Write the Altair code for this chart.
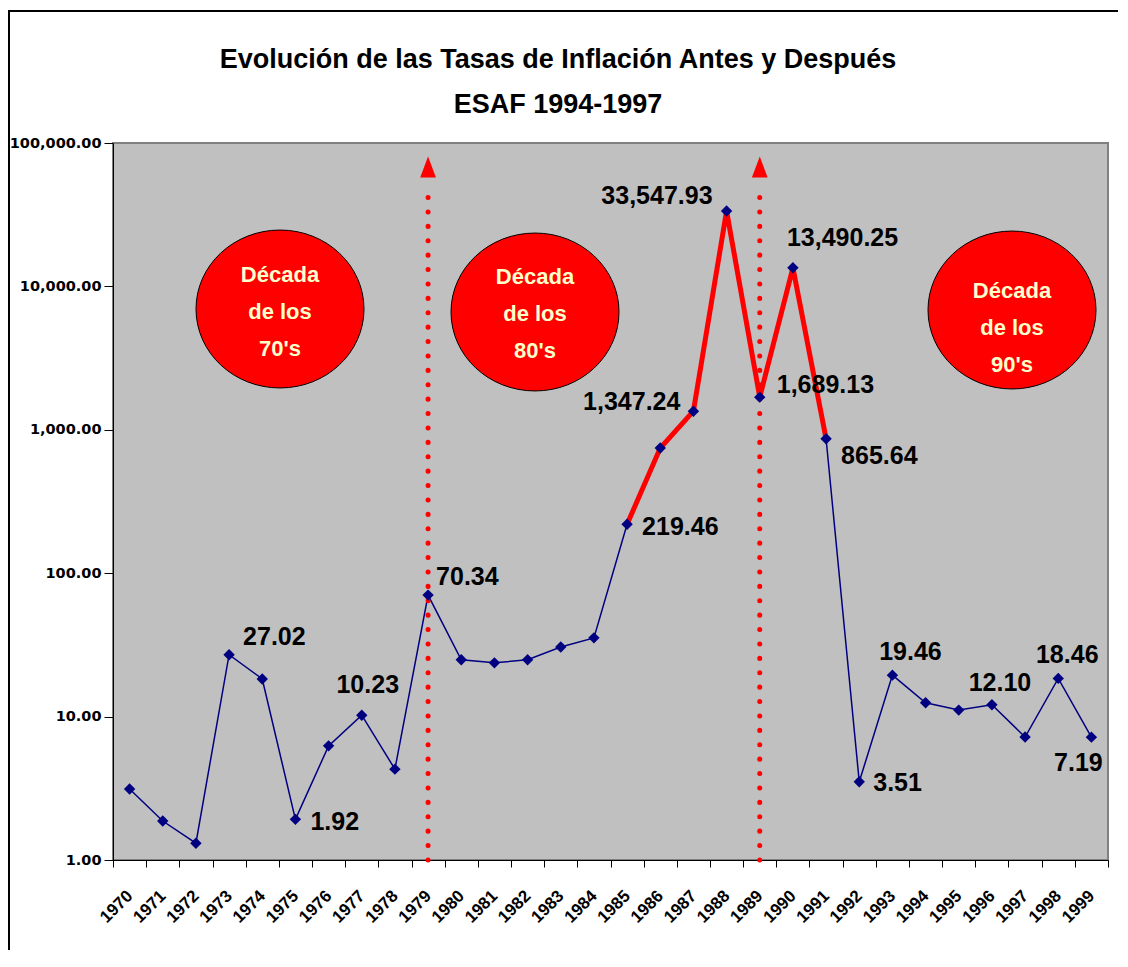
import altair as alt
import pandas as pd

# ---------------- data ----------------
years = [str(y) for y in range(1970, 2000)]
inflation = [3.13, 1.87, 1.31, 27.02, 18.3, 1.92, 6.25, 10.23, 4.3, 70.34,
             24.9, 23.7, 24.9, 30.6, 35.4, 219.46, 746.0, 1347.24, 33547.93, 1689.13,
             13490.25, 865.64, 3.51, 19.46, 12.5, 11.1, 12.10, 7.2, 18.46, 7.19]
red_years = ["1985", "1986", "1987", "1988", "1989", "1990", "1991"]
arrow_years = ["1979", "1989"]
decade_labels = ["Década\nde los\n70's", "Década\nde los\n80's", "Década\nde los\n90's"]
title_lines = ["Evolución de las Tasas de Inflación Antes y Después", "ESAF 1994-1997"]
y_ticks = [1, 10, 100, 1000, 10000, 100000]
labelled_years = ["1973", "1975", "1977", "1979", "1985", "1987", "1988", "1989",
                  "1990", "1991", "1992", "1993", "1996", "1998", "1999"]

df = pd.DataFrame({"year": years, "value": inflation})
df_red = df[df["year"].isin(red_years)]
df_arrow = pd.DataFrame({"year": arrow_years})

FONT = "Liberation Sans, Arial, sans-serif"
W, H = 995, 717

x_enc = alt.X("year:O",
              scale=alt.Scale(type="band", domain=years, paddingInner=0, paddingOuter=0),
              axis=alt.Axis(title=None, labelAngle=-45, labelAlign="right", labelBaseline="middle",
                            labelPadding=26, labelFont=FONT, labelFontWeight="bold",
                            labelFontSize=17, labelColor="black", tickBand="extent", tickSize=7,
                            tickColor="black", domainColor="black", domainWidth=1))
y_enc = alt.Y("value:Q",
              scale=alt.Scale(type="log", domain=[1, 100000], nice=False),
              axis=alt.Axis(title=None, values=y_ticks, format=",.2f", grid=False,
                            labelFont="DejaVu Sans", labelFontWeight="bold", labelFontSize=14.5,
                            labelColor="black", labelPadding=3, tickSize=9, tickColor="black",
                            domainColor="black", domainWidth=1))

base = alt.Chart(df)

blue_line = base.mark_line(color="#000080", strokeWidth=1.5).encode(x=x_enc, y=y_enc)
red_line = alt.Chart(df_red).mark_line(color="#FF0000", strokeWidth=5).encode(x="year:O", y="value:Q")
markers = base.mark_point(shape="diamond", filled=True, color="#000080", size=130, opacity=1).encode(
    x="year:O", y="value:Q")

# dotted arrows
arrow_rules = alt.Chart(df_arrow).mark_rule(color="#FF0000", strokeWidth=5, strokeCap="round",
                                            strokeDash=[0.1, 14.3]).encode(
    x="year:O", y=alt.value(H), y2=alt.value(50))
arrow_heads = alt.Chart(df_arrow).mark_point(shape="M 0 -1 L 0.75 1 L -0.75 1 Z", filled=True,
                                             color="#FF0000", size=441, opacity=1).encode(
    x="year:O", y=alt.value(24))

# value labels (offsets set per label)
label_style = {
    "1973": ("left", 14, -18), "1975": ("left", 15, 3), "1977": ("center", 6, -30),
    "1979": ("left", 8, -18), "1985": ("left", 15, 3), "1987": ("right", -13, -9),
    "1988": ("right", -14, -15), "1989": ("left", 17, -12), "1990": ("left", -6, -30),
    "1991": ("left", 15, 17), "1992": ("left", 14, 1), "1993": ("center", 18, -23),
    "1996": ("center", 8, -22), "1998": ("center", 9, -23), "1999": ("center", -13, 26),
}
label_layers = []
for yr in labelled_years:
    al, dx, dy = label_style[yr]
    label_layers.append(
        base.transform_filter(alt.datum.year == yr).mark_text(
            align=al, baseline="middle", dx=dx, dy=dy, font=FONT, fontWeight="bold",
            fontSize=25, color="black").encode(
            x="year:O", y="value:Q", text=alt.Text("value:Q", format=",.2f")))

# decade ellipses
ellipse_path = "M -1 0 A 1 0.94 0 1 1 1 0 A 1 0.94 0 1 1 -1 0 Z"
decade_pos = [(167, 166, 132), (422, 169, 134), (899, 167, 148)]
decade_layers = []
for txt, (cx, cy, ty) in zip(decade_labels, decade_pos):
    d = pd.DataFrame({"t": [txt]})
    decade_layers.append(alt.Chart(d).mark_point(shape=ellipse_path, filled=True, fill="#FF0000",
                                                 stroke="black", strokeWidth=1, size=168 ** 2,
                                                 opacity=1).encode(x=alt.value(cx), y=alt.value(cy)))
    decade_layers.append(alt.Chart(d).mark_text(lineBreak="\n", lineHeight=37, align="center",
                                                baseline="middle", font=FONT, fontWeight="bold",
                                                fontSize=22, color="#FFFFCC").encode(
        x=alt.value(cx), y=alt.value(ty), text="t:N"))

# title
title_df = pd.DataFrame({"t": title_lines})
title1 = alt.Chart(title_df).transform_filter(alt.datum.t == title_lines[0]).mark_text(
    align="center", baseline="middle", font=FONT, fontWeight="bold", fontSize=27, color="black").encode(
    x=alt.value(445), y=alt.value(-83), text="t:N")
title2 = alt.Chart(title_df).transform_filter(alt.datum.t == title_lines[1]).mark_text(
    align="center", baseline="middle", font=FONT, fontWeight="bold", fontSize=27, color="black").encode(
    x=alt.value(445), y=alt.value(-38), text="t:N")

# outer frame: thin filled bars for the left and top edges
frame_df = pd.DataFrame({"k": [0]})
frame_left = alt.Chart(frame_df).mark_rect(color="black", strokeWidth=0).encode(
    x=alt.value(-105), x2=alt.value(-103), y=alt.value(-133), y2=alt.value(H + 200))
frame_top = alt.Chart(frame_df).mark_rect(color="black", strokeWidth=0).encode(
    x=alt.value(-105), x2=alt.value(W + 40), y=alt.value(-133), y2=alt.value(-131))

chart = alt.layer(
    frame_left, frame_top, blue_line, red_line, arrow_rules, arrow_heads, markers,
    *decade_layers, *label_layers, title1, title2
).properties(
    width=W, height=H,
    background="white",
    autosize=alt.AutoSizeParams(type="none"),
    padding={"left": 105, "top": 135, "right": 10, "bottom": 90},
).configure_view(
    fill="#C0C0C0", stroke="#808080", strokeWidth=2
)

chart.save("out.html", embed_options={"renderer": "svg", "actions": False})
